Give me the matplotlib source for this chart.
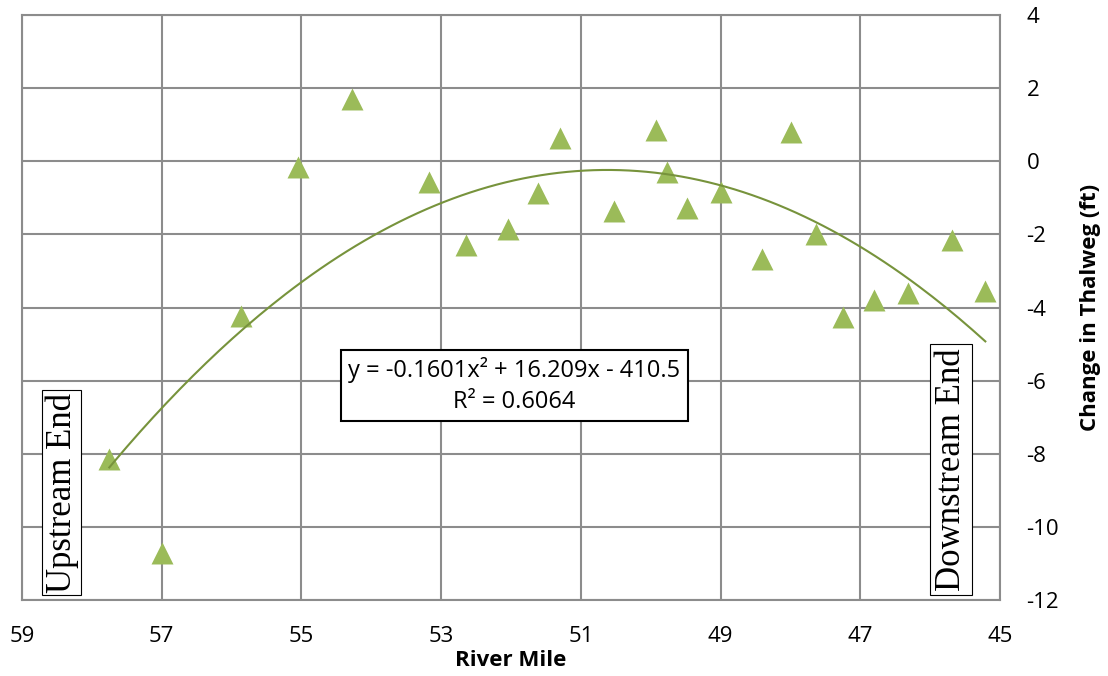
import numpy as np
import matplotlib.pyplot as plt

plt.rcParams['font.family'] = ['Open Sans', 'DejaVu Sans']
plt.rcParams['axes.unicode_minus'] = False

# survey points
river_mile = [57.75, 57.0, 55.86, 55.05, 54.27, 53.18, 52.64, 52.04, 51.61, 51.3,
              50.52, 49.92, 49.77, 49.48, 49.0, 48.41, 47.99, 47.64, 47.25, 46.8,
              46.31, 45.68, 45.21]
thalweg_change = [-8.15, -10.71, -4.22, -0.16, 1.69, -0.58, -2.28, -1.85, -0.87, 0.64,
                  -1.35, 0.86, -0.29, -1.27, -0.84, -2.66, 0.79, -2.0, -4.27, -3.8,
                  -3.61, -2.16, -3.55]

# polynomial trendline (from the equation label)
trend_coef = [-0.1601, 16.209, -410.5]
r_squared = 0.6064

x_ticks = [59, 57, 55, 53, 51, 49, 47, 45]
y_ticks = [-12, -10, -8, -6, -4, -2, 0, 2, 4]

fig = plt.figure(figsize=(11.08, 6.76), dpi=100)
ax = fig.add_axes([22 / 1108, 1 - 600 / 676, 978 / 1108, 585 / 676])

ax.scatter(river_mile, thalweg_change, marker='^', s=250, color='#9BBB59',
           linewidths=0, zorder=3)

xx = np.linspace(min(river_mile), max(river_mile), 200)
ax.plot(xx, np.polyval(trend_coef, xx), color='#77933C', lw=1.5, zorder=4)

ax.set_xlim(59, 45)
ax.set_ylim(-12, 4)
ax.set_xticks(x_ticks)
ax.set_yticks(y_ticks)
ax.yaxis.tick_right()
ax.yaxis.set_label_position('right')
ax.tick_params(length=0, pad=19, labelsize=16)
ax.grid(True, color='#8C8C8C', lw=1.5)
ax.set_axisbelow(True)
for s in ax.spines.values():
    s.set_color('#8C8C8C')
    s.set_linewidth(1.5)

ax.set_xlabel('River Mile', fontsize=16, fontweight='bold')
ax.set_ylabel('Change in Thalweg (ft)', fontsize=16, fontweight='bold')
ax.xaxis.set_label_coords(0.5, -0.085)
ax.yaxis.set_label_coords(1.082, 0.5)

eq = 'y = %.4fx² + %.3fx - %.1f\nR² = %.4f' % (trend_coef[0], trend_coef[1],
                                               -trend_coef[2], r_squared)
ax.text(51.95, -6.13, eq, ha='center', va='center', multialignment='center',
        fontsize=17, linespacing=1.4, zorder=5,
        bbox=dict(boxstyle='square,pad=0.3', fc='white', ec='black', lw=1.5))

ax.text(58.43, -9.06, 'Upstream End', rotation=90, ha='center', va='center',
        family='Liberation Serif', fontsize=25, zorder=5,
        bbox=dict(boxstyle='square,pad=0.08', fc='white', ec='black', lw=0.8))
ax.text(45.7, -8.44, 'Downstream End', rotation=90, ha='center', va='center',
        family='Liberation Serif', fontsize=25, zorder=5,
        bbox=dict(boxstyle='square,pad=0.12', fc='white', ec='black', lw=0.8))

plt.savefig('out.png', dpi=100)
